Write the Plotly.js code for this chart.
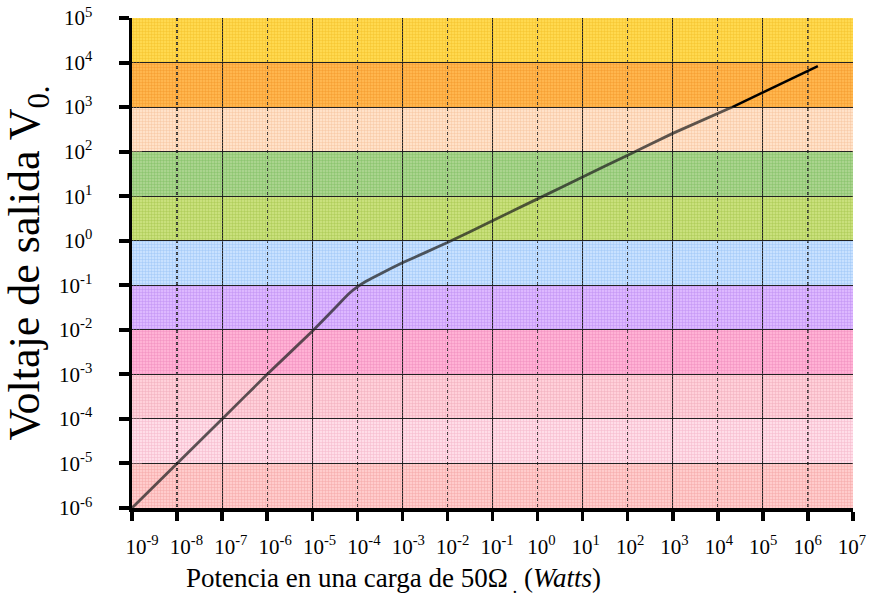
<!DOCTYPE html>
<html>
<head>
<meta charset="utf-8">
<script src="https://cdn.plot.ly/plotly-3.0.1.min.js"></script>
<style>html,body{margin:0;padding:0;background:#fff;} #chart{width:870px;height:616px;}</style>
</head>
<body>
<div id="chart"></div>
<script>
// ---- data ----
var decadesX = [1e-9,1e-8,1e-7,1e-6,1e-5,1e-4,1e-3,1e-2,1e-1,1e0,1e1,1e2,1e3,1e4,1e5,1e6,1e7];
var xTickText = ['10<sup>-9</sup>','10<sup>-8</sup>','10<sup>-7</sup>','10<sup>-6</sup>','10<sup>-5</sup>','10<sup>-4</sup>','10<sup>-3</sup>','10<sup>-2</sup>','10<sup>-1</sup>','10<sup>0</sup>','10<sup>1</sup>','10<sup>2</sup>','10<sup>3</sup>','10<sup>4</sup>','10<sup>5</sup>','10<sup>6</sup>','10<sup>7</sup>'];
var oddDecadesX = [1e-7,1e-5,1e-3,1e-1,1e1,1e3,1e5];
var evenDecadesX = [1e-9,1e-8,1e-6,1e-4,1e-2,1e0,1e2,1e4,1e6,1e7];
var decadesY = [1e-6,1e-5,1e-4,1e-3,1e-2,1e-1,1e0,1e1,1e2,1e3,1e4,1e5];
var yTickText = ['10<sup>-6</sup>','10<sup>-5</sup>','10<sup>-4</sup>','10<sup>-3</sup>','10<sup>-2</sup>','10<sup>-1</sup>','10<sup>0</sup>','10<sup>1</sup>','10<sup>2</sup>','10<sup>3</sup>','10<sup>4</sup>','10<sup>5</sup>'];
// band colours, bottom (1e-6..1e-5) to top (1e4..1e5)
var bandColors = ['#ffcccc','#ffdde8','#ffd0da','#ffb2d5','#ddb8ff','#c8e1ff','#c9e07c','#aad48e','#ffe2c9','#ffb64e','#ffd94f'];
var bandMesh   = ['#f09a9a','#f0aac0','#eba0b2','#ec82b6','#b884ee','#92bdf2','#9fc244','#78b95a','#f2bc92','#f0921e','#f0bc1e'];
// curve
var powerW  = [1e-9,1e-8,1e-7,1e-6,1e-5,3.2e-5,6.3e-5,1e-4,1.6e-4,3.2e-4,1e-3,3.2e-3,1e-2,1e-1,1,10,100,1000,2.1e4];
var voltsV  = [1e-6,1e-5,1e-4,1e-3,0.0093,0.031,0.063,0.092,0.125,0.18,0.32,0.54,0.91,2.8,8.7,27,83,257,1000];
var powerHi = [2.1e4,1.66e6];
var voltsHi = [1000,8300];

var xMin = decadesX[0], xMax = decadesX[decadesX.length-1];
var font = 'Liberation Serif';

var traces = [];
var shapes = [];
for (var i = 0; i < bandColors.length; i++) {
  var lo = decadesY[i], hi = decadesY[i+1];
  shapes.push({type:'rect', xref:'paper', yref:'y', x0:0, x1:1, y0:lo, y1:hi,
    fillcolor:bandColors[i], line:{width:0}, layer:'below'});
  traces.push({
    type:'scatter', mode:'none', x:[xMin,xMax,xMax,xMin,xMin], y:[lo,lo,hi,hi,lo],
    fill:'toself', fillcolor:'rgba(0,0,0,0)',
    fillpattern:{shape:'+', size:3, solidity:0.3, fgcolor:bandMesh[i], fgopacity:0.75, bgcolor:'rgba(0,0,0,0)'},
    hoverinfo:'skip', showlegend:false
  });
}
traces.push({type:'scatter', mode:'lines', x:powerW, y:voltsV, line:{color:'rgba(30,30,30,0.72)', width:2.8, shape:'spline', smoothing:0.3}, showlegend:false});
traces.push({type:'scatter', mode:'lines', x:powerHi, y:voltsHi, line:{color:'#000', width:2.4}, showlegend:false});
// label-only trace on the tick-label axis
traces.push({type:'scatter', mode:'lines', x:powerHi, y:voltsHi, xaxis:'x2', line:{color:'rgba(0,0,0,0)', width:0}, hoverinfo:'skip', showlegend:false});

var layout = {
  width:870, height:616,
  margin:{l:132, r:17, t:18, b:108},
  paper_bgcolor:'#fff', plot_bgcolor:'rgba(0,0,0,0)',
  font:{family:font, color:'#000'},
  showlegend:false,
  shapes:shapes,
  xaxis:{
    type:'log', range:[-9,7], fixedrange:true,
    tickmode:'array', tickvals:oddDecadesX, showticklabels:false,
    ticks:'outside', ticklen:9, tickwidth:3.5, tickcolor:'#000',
    showgrid:true, gridcolor:'#222', gridwidth:1,
    showline:true, linecolor:'#000', linewidth:3.5,
    minor:{tickmode:'array', tickvals:evenDecadesX, ticks:'outside', ticklen:9, tickwidth:3.5, tickcolor:'#000',
           showgrid:true, gridcolor:'#333', gridwidth:1.3, griddash:'dot'},
    zeroline:false
  },
  xaxis2:{
    type:'log', range:[-9,7], fixedrange:true, anchor:'y',
    domain:[(142-132)/721, (852-132)/721],
    tickmode:'array', tickvals:decadesX, ticktext:xTickText,
    ticks:'', showgrid:false, showline:false, zeroline:false,
    tickfont:{family:font, size:21, color:'#000'}, ticklabelstandoff:24
  },
  yaxis:{
    type:'log', range:[-6,5], fixedrange:true,
    tickmode:'array', tickvals:decadesY, ticktext:yTickText,
    tickfont:{family:font, size:21, color:'#000'},
    ticks:'outside', ticklen:10, tickwidth:4, tickcolor:'#000', ticklabelstandoff:22,
    showgrid:true, gridcolor:'#222', gridwidth:1,
    showline:true, linecolor:'#000', linewidth:3.5, zeroline:false,
    title:{text:'Voltaje de salida V<sub>0.</sub>', font:{family:font, size:44, color:'#000'}, standoff:6}
  },
  annotations:[{
    xref:'paper', yref:'paper', x:(393-132)/721, y:(508-580)/490, xanchor:'center', yanchor:'middle',
    showarrow:false, text:'Potencia en una carga de 50\u03A9<sub> .</sub> (<i>Watts</i>)',
    font:{family:font, size:27, color:'#000'}
  }]
};

Plotly.newPlot('chart', traces, layout, {displayModeBar:false, staticPlot:true});
</script>
</body>
</html>
